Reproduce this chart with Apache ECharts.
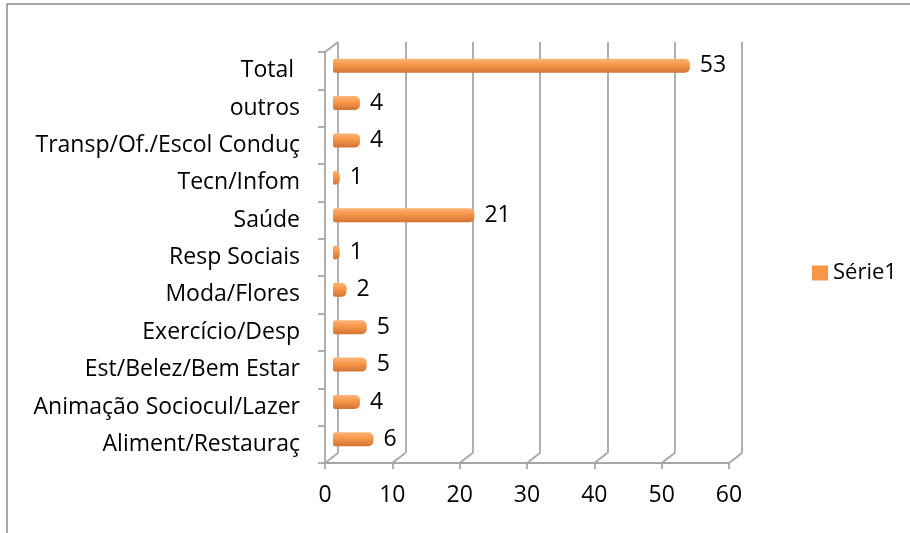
<!DOCTYPE html>
<html>
<head>
<meta charset="utf-8">
<script src="https://cdn.jsdelivr.net/npm/echarts@6/dist/echarts.min.js"></script>
<style>
  html, body { margin: 0; padding: 0; background: #fff; }
  #chart { width: 910px; height: 533px; }
</style>
</head>
<body>
<div id="chart"></div>
<script>
// dados
const categories = ['Total ', 'outros', 'Transp/Of./Escol Conduç', 'Tecn/Infom', 'Saúde', 'Resp Sociais',
  'Moda/Flores', 'Exercício/Desp', 'Est/Belez/Bem Estar', 'Animação Sociocul/Lazer', 'Aliment/Restauraç']
const values = [53, 4, 4, 1, 21, 1, 2, 5, 5, 4, 6]
const seriesName = 'Série1'
const xMin = 0
const xMax = 60
const xStep = 10

// layout (efeito 3D: parede de trás deslocada)
const front = { left: 325, top: 52, width: 404, height: 411 }
const dx = 13
const dy = 10
const gridColor = '#a6a6a6'
const font = '"Open Sans", "Noto Sans", sans-serif'
const fs = 23

const chart = echarts.init(document.getElementById('chart'))

// linhas diagonais do "chão" 3D
const diag = []
for (let v = xMin; v <= xMax; v += xStep) {
  const x = front.left + (v - xMin) / (xMax - xMin) * front.width
  const y = front.top + front.height
  diag.push({
    type: 'line', z: 1,
    shape: { x1: x, y1: y, x2: x + dx, y2: y - dy },
    style: { stroke: gridColor, lineWidth: 1.8 },
  })
}
diag.push({
  type: 'line', z: 1,
  shape: { x1: front.left, y1: front.top, x2: front.left + dx, y2: front.top - dy },
  style: { stroke: gridColor, lineWidth: 1.8 },
})

const options = {
  animation: false,
  textStyle: { fontFamily: font },
  graphic: [
    {
      type: 'rect', z: 0,
      shape: { x: 7, y: 4, width: 1000, height: 600 },
      style: { fill: 'none', stroke: '#8c8c8c', lineWidth: 1.5 },
    },
    ...diag,
  ],
  legend: {
    left: 807,
    top: 257,
    itemWidth: 16,
    itemHeight: 15,
    icon: 'rect',
    data: [{ name: seriesName, itemStyle: { color: '#F79646' } }],
    textStyle: { fontSize: fs - 1, color: '#000', fontFamily: font },
  },
  grid: [
    // frente
    { left: front.left, top: front.top, width: front.width, height: front.height },
    // parede de trás
    { left: front.left + dx, top: front.top - dy, width: front.width, height: front.height },
    // meio (barras)
    { left: front.left + 8, top: front.top - dy / 2, width: front.width, height: front.height },
  ],
  xAxis: [
    {
      gridIndex: 0, type: 'value', min: xMin, max: xMax, interval: xStep,
      axisLine: { show: true, lineStyle: { color: gridColor, width: 1.8 } },
      axisTick: { show: true, length: 6, lineStyle: { color: gridColor, width: 1.8 } },
      axisLabel: { fontSize: fs, color: '#000', margin: 21, fontFamily: font },
      splitLine: { show: false },
    },
    {
      gridIndex: 1, type: 'value', min: xMin, max: xMax, interval: xStep,
      axisLine: { show: false }, axisTick: { show: false }, axisLabel: { show: false },
      splitLine: { show: true, lineStyle: { color: gridColor, width: 1.8 } },
    },
    {
      gridIndex: 2, type: 'value', min: xMin, max: xMax, interval: xStep,
      show: false,
    },
  ],
  yAxis: [
    {
      gridIndex: 0, type: 'category', data: categories, inverse: true,
      axisLine: { show: true, lineStyle: { color: gridColor, width: 1.8 } },
      axisTick: { show: true, length: 7, lineStyle: { color: gridColor, width: 1.8 } },
      axisLabel: { fontSize: fs, color: '#000', margin: 25, fontFamily: font },
    },
    {
      gridIndex: 1, type: 'category', data: categories, inverse: true,
      axisLine: { show: false }, axisTick: { show: false }, axisLabel: { show: false },
    },
    {
      gridIndex: 2, type: 'category', data: categories, inverse: true,
      show: false,
    },
  ],
  series: [
    {
      name: seriesName,
      type: 'bar',
      xAxisIndex: 2,
      yAxisIndex: 2,
      data: values,
      barWidth: 14,
      z: 3,
      itemStyle: {
        borderRadius: [2, 5, 5, 2],
        color: new echarts.graphic.LinearGradient(0, 0, 0, 1, [
          { offset: 0, color: '#fbb57a' },
          { offset: 0.45, color: '#f79646' },
          { offset: 1, color: '#d07434' },
        ]),
      },
      label: {
        show: true,
        position: 'right',
        distance: 10,
        fontSize: fs,
        color: '#000',
        fontFamily: font,
      },
    },
  ],
}

chart.setOption(options)
</script>
</body>
</html>
